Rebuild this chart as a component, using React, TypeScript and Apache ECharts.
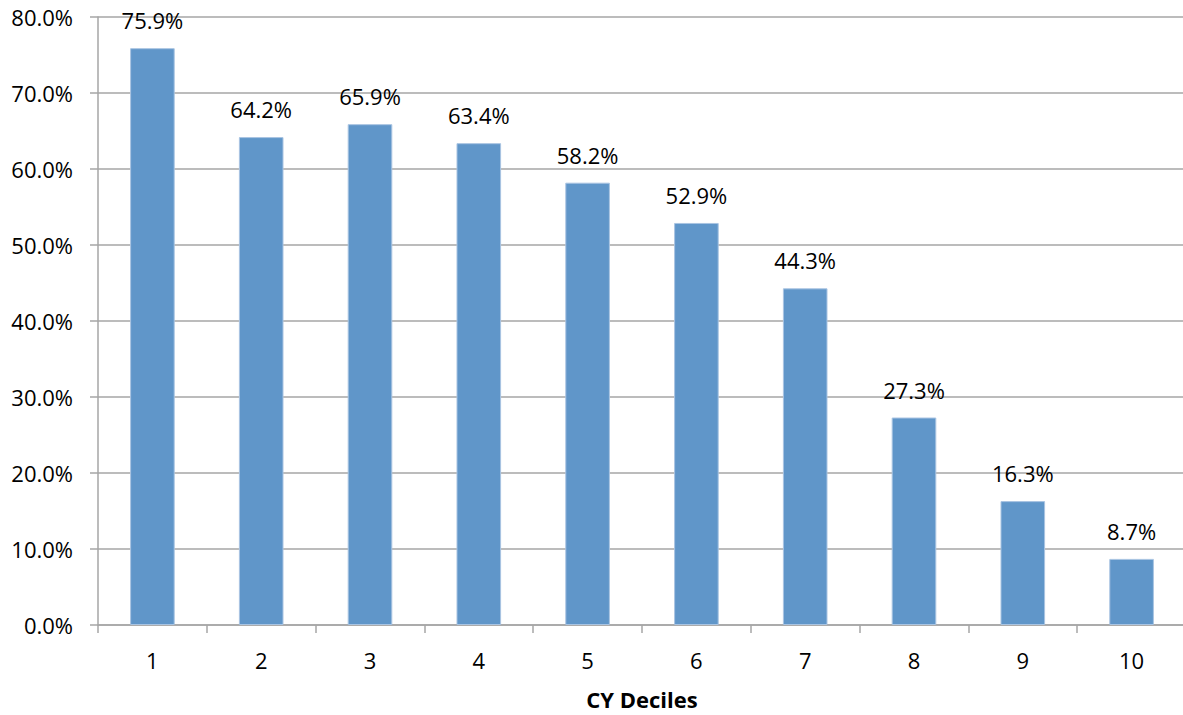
import React, { useEffect, useRef } from "react";
import * as echarts from "echarts";

const deciles = ["1", "2", "3", "4", "5", "6", "7", "8", "9", "10"];
const shares = [75.9, 64.2, 65.9, 63.4, 58.2, 52.9, 44.3, 27.3, 16.3, 8.7];

const FONT = "'Open Sans', 'Liberation Sans', sans-serif";
const GRID_COLOR = "#a6a6a6";
const FS = 22;

export default function App() {
  const ref = useRef<HTMLDivElement>(null);

  useEffect(() => {
    if (!ref.current) return;
    const chart = echarts.init(ref.current, null, { renderer: "svg" });
    chart.setOption({
      animation: false,
      backgroundColor: "#ffffff",
      grid: { left: 98, right: -3, top: 17, bottom: 90, outerBoundsMode: "none" },
      xAxis: {
        type: "category",
        data: deciles,
        name: "CY Deciles",
        nameLocation: "middle",
        nameGap: 63,
        nameTextStyle: { fontFamily: FONT, fontSize: 22, fontWeight: "bold", color: "#000" },
        axisLine: { lineStyle: { color: GRID_COLOR, width: 1.5 } },
        axisTick: { show: true, length: 8, lineStyle: { color: GRID_COLOR, width: 1.5 } },
        axisLabel: { fontFamily: FONT, fontSize: FS, color: "#000", margin: 24 },
      },
      yAxis: {
        type: "value",
        min: 0,
        max: 80,
        interval: 10,
        axisLine: { show: true, lineStyle: { color: GRID_COLOR, width: 1.5 } },
        axisTick: { show: true, length: 8, lineStyle: { color: GRID_COLOR, width: 1.5 } },
        splitLine: { lineStyle: { color: GRID_COLOR, width: 1.5 } },
        axisLabel: {
          fontFamily: FONT,
          fontSize: FS,
          color: "#000",
          margin: 25,
          formatter: (v: number) => v.toFixed(1) + "%",
        },
      },
      series: [
        {
          type: "bar",
          data: shares,
          barWidth: "41%",
          itemStyle: { color: "#6096c9", borderColor: "#a9c4e2", borderWidth: 1 },
          label: {
            show: true,
            position: "top",
            distance: 17,
            fontFamily: FONT,
            fontSize: FS,
            color: "#000",
            formatter: (p: any) => Number(p.value).toFixed(1) + "%",
          },
        },
      ],
    });
    return () => chart.dispose();
  }, []);

  return (
    <div
      ref={ref}
      style={{ position: "absolute", left: 0, top: 0, width: 1183, height: 715 }}
    />
  );
}
